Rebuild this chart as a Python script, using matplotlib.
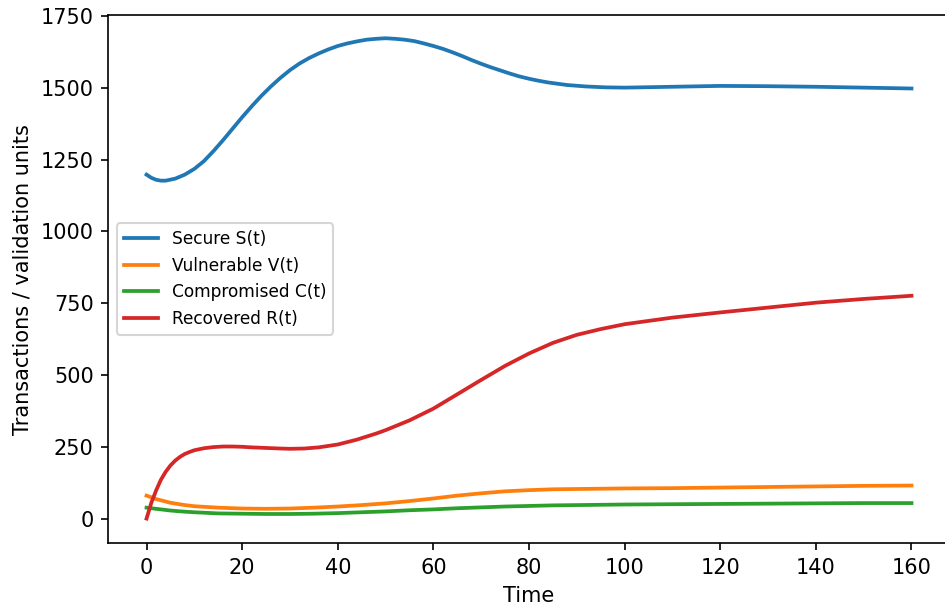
import numpy as np
import matplotlib
matplotlib.use("Agg")
import matplotlib.pyplot as plt

# values
t_s = [0, 1, 2, 3, 4, 6, 8, 10, 12, 14, 16, 18, 20, 22, 24, 26, 28, 30, 32, 34,
       36, 38, 40, 42, 44, 46, 48, 50, 52, 54, 56, 58, 60, 62, 64, 66, 68, 70,
       72, 74, 76, 78, 80, 82, 84, 88, 92, 96, 100, 110, 120, 130, 140, 150, 160]
secure = [1198, 1187, 1180, 1177, 1177, 1184, 1198, 1218, 1245, 1280, 1318, 1358,
          1398, 1436, 1472, 1505, 1535, 1562, 1585, 1604, 1620, 1634, 1646, 1655,
          1662, 1668, 1671, 1673, 1671, 1668, 1663, 1655, 1646, 1636, 1624, 1611,
          1597, 1584, 1572, 1561, 1550, 1540, 1532, 1525, 1519, 1510, 1505, 1502,
          1501, 1504, 1507, 1506, 1504, 1501, 1498]

t_r = [0, 1, 2, 3, 4, 5, 6, 7, 8, 9, 10, 12, 14, 16, 18, 20, 22, 25, 28, 30, 33,
       36, 40, 44, 48, 50, 55, 60, 65, 70, 75, 80, 85, 90, 95, 100, 110, 120, 130,
       140, 150, 160]
recovered = [0, 55, 98, 135, 163, 185, 202, 215, 225, 232, 238, 245, 249, 251, 251,
             250, 248, 246, 244, 243, 244, 248, 258, 275, 296, 308, 342, 383, 433,
             483, 532, 575, 612, 640, 660, 677, 700, 718, 735, 752, 765, 776]

t_v = [0, 2, 5, 8, 10, 15, 20, 25, 30, 35, 40, 45, 50, 55, 60, 65, 70, 75, 80, 85,
       90, 100, 110, 120, 130, 140, 150, 160]
vulnerable = [80, 68, 55, 47, 43, 38, 35, 34, 35, 38, 42, 47, 53, 61, 70, 80, 88, 95,
              99, 102, 103, 105, 106, 108, 110, 112, 114, 115]
compromised = [38, 34, 28, 24, 22, 18, 17, 16, 16, 17, 19, 22, 25, 29, 32, 36, 39, 42,
               44, 46, 47, 49, 50, 51, 52, 53, 54, 54]

fig = plt.figure(figsize=(6.3, 607 / 150), dpi=150)
ax = fig.add_axes([0.1146, 0.105, 0.8904, 0.8703])

ax.plot(t_s, secure, lw=1.8, label="Secure S(t)")
ax.plot(t_v, vulnerable, lw=1.8, label="Vulnerable V(t)")
ax.plot(t_v, compromised, lw=1.8, label="Compromised C(t)")
ax.plot(t_r, recovered, lw=1.8, label="Recovered R(t)")

ax.set_xlim(-8, 168)
ax.set_ylim(-86, 1754)
ax.set_xlabel("Time")
ax.set_ylabel("Transactions / validation units")
ax.legend(loc="center left", fontsize=8.2)

fig.savefig("out.png", dpi=150)
